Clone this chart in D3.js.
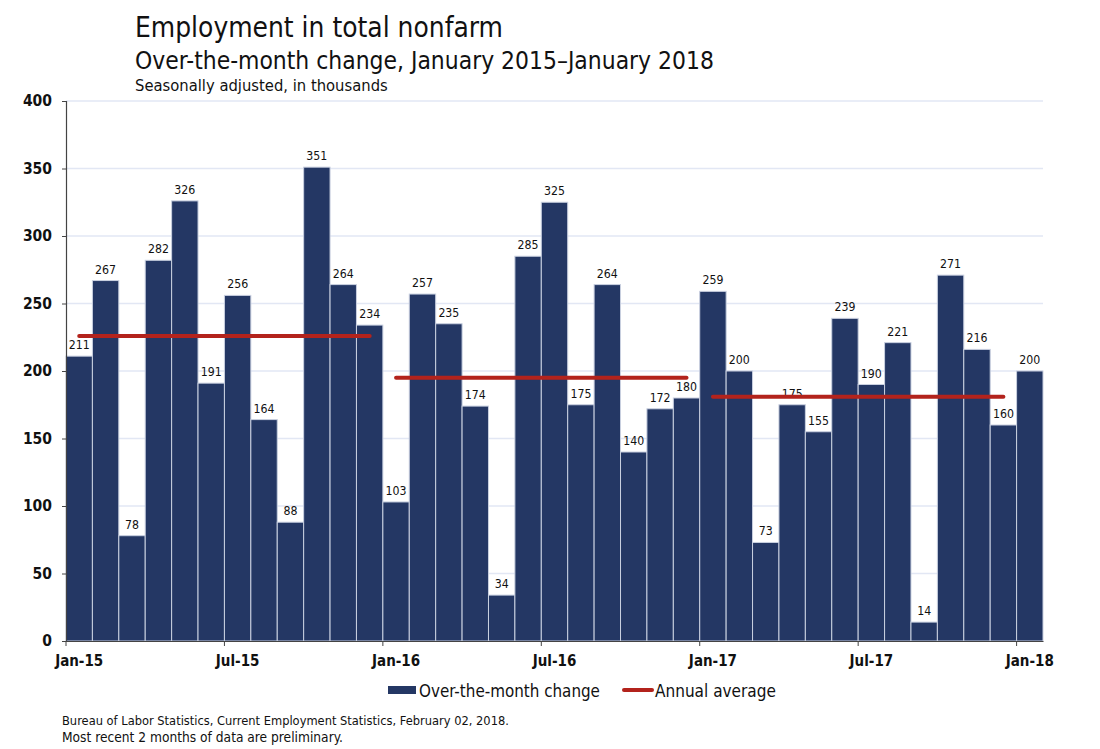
<!DOCTYPE html>
<html>
<head>
<meta charset="utf-8">
<script src="https://cdn.jsdelivr.net/npm/d3@7"></script>
<style>
  html, body { margin: 0; padding: 0; background: #fff; }
  svg { display: block; }
  text { font-family: "DejaVu Sans Condensed", "DejaVu Sans", Verdana, sans-serif; font-stretch: condensed; fill: #111; }
</style>
</head>
<body>
<svg id="chart" width="1100" height="749"></svg>
<script>
// ---- Data ----
const months = [
  "Jan-15","Feb-15","Mar-15","Apr-15","May-15","Jun-15","Jul-15","Aug-15","Sep-15","Oct-15","Nov-15","Dec-15",
  "Jan-16","Feb-16","Mar-16","Apr-16","May-16","Jun-16","Jul-16","Aug-16","Sep-16","Oct-16","Nov-16","Dec-16",
  "Jan-17","Feb-17","Mar-17","Apr-17","May-17","Jun-17","Jul-17","Aug-17","Sep-17","Oct-17","Nov-17","Dec-17",
  "Jan-18"
];
const changes = [
  211,267,78,282,326,191,256,164,88,351,264,234,
  103,257,235,174,34,285,325,175,264,140,172,180,
  259,200,73,175,155,239,190,221,14,271,216,160,
  200
];
const avgYears = ["2015","2016","2017"];
const avgStart = ["Jan-15","Jan-16","Jan-17"];
const avgEnd = ["Dec-15","Dec-16","Dec-17"];
const avgValues = [226,195,181];
const yTicks = [0,50,100,150,200,250,300,350,400];
const xTickLabels = ["Jan-15","Jul-15","Jan-16","Jul-16","Jan-17","Jul-17","Jan-18"];

const titleText = "Employment in total nonfarm";
const subtitleText = "Over-the-month change, January 2015\u2013January 2018";
const subtitle2Text = "Seasonally adjusted, in thousands";
const legendBarText = "Over-the-month change";
const legendLineText = "Annual average";
const footnotes = [
  "Bureau of Labor Statistics, Current Employment Statistics, February 02, 2018.",
  "Most recent 2 months of data are preliminary."
];

// ---- Layout ----
const svg = d3.select("#chart");
const plot = { left: 66, right: 1043, top: 101, bottom: 641 };
const barColor = "#243764";
const lineColor = "#b3231c";

const x = d3.scaleBand().domain(months).range([plot.left, plot.right]).paddingInner(0).paddingOuter(0);
const y = d3.scaleLinear().domain([0, 400]).range([plot.bottom, plot.top]);

function fit(sel, w) {
  const n = sel.node();
  const fs = parseFloat(sel.attr("font-size"));
  const cur = n.getComputedTextLength();
  sel.attr("font-size", (fs * w / cur).toFixed(2));
}

// Titles
fit(svg.append("text").attr("x", 135).attr("y", 37).attr("font-size", 26).text(titleText), 368);
fit(svg.append("text").attr("x", 135).attr("y", 69).attr("font-size", 21).text(subtitleText), 579);
fit(svg.append("text").attr("x", 135).attr("y", 91).attr("font-size", 15).text(subtitle2Text), 253);

// Gridlines
svg.append("g").selectAll("line").data(yTicks.filter(d => d > 0)).join("line")
  .attr("x1", plot.left).attr("x2", plot.right)
  .attr("y1", d => y(d)).attr("y2", d => y(d))
  .attr("stroke", "#e2e7f4").attr("stroke-width", 1.5);

// Bars
svg.append("g").selectAll("rect").data(changes).join("rect")
  .attr("x", (d, i) => x(months[i]))
  .attr("y", d => y(d))
  .attr("width", x.bandwidth())
  .attr("height", d => y(0) - y(d))
  .attr("fill", barColor)
  .attr("stroke", "#c9d0e0").attr("stroke-width", 1);

// Bar labels
const lblSize = (() => {
  const t = svg.append("text").attr("font-size", 12).text("351");
  const w = t.node().getComputedTextLength(); t.remove();
  return 12 * 21 / w;
})();
svg.append("g").selectAll("text").data(changes).join("text")
  .attr("x", (d, i) => x(months[i]) + x.bandwidth() / 2)
  .attr("y", d => y(d) - 7)
  .attr("text-anchor", "middle")
  .attr("font-size", lblSize.toFixed(2))
  .attr("fill", "#222")
  .text(d => d);

// Annual averages
svg.append("g").selectAll("line").data(avgValues).join("line")
  .attr("x1", (d, i) => x(avgStart[i]) + x.bandwidth() / 2)
  .attr("x2", (d, i) => x(avgEnd[i]) + x.bandwidth() / 2)
  .attr("y1", d => y(d)).attr("y2", d => y(d))
  .attr("stroke", lineColor).attr("stroke-width", 4).attr("stroke-linecap", "round");

// Y axis
const yAxis = svg.append("g").attr("transform", `translate(${plot.left},0)`)
  .call(d3.axisLeft(y).tickValues(yTicks).tickSize(4).tickPadding(10));
yAxis.select(".domain").attr("stroke", "#444").attr("stroke-width", 1.2);
yAxis.selectAll(".tick line").attr("stroke", "#444");
yAxis.selectAll(".tick text").attr("font-family", null).attr("font-size", null)
  .style("font-size", "15.5px").style("font-weight", "bold").attr("fill", "#111");

// X axis: ticks at the left edge of each labelled month, labels centred on the bar
const xAxis = svg.append("g").attr("transform", `translate(0,${plot.bottom})`)
  .call(d3.axisBottom(x).tickValues(xTickLabels).tickSize(5).tickPadding(9).tickSizeOuter(0));
xAxis.select(".domain").attr("stroke", "#444").attr("stroke-width", 1.2);
xAxis.selectAll(".tick line").attr("stroke", "#444").attr("x1", -x.bandwidth() / 2).attr("x2", -x.bandwidth() / 2);
xAxis.selectAll(".tick text").attr("font-family", null).attr("font-size", null)
  .style("font-size", "15px").style("font-weight", "bold").attr("fill", "#111");

// Legend
const lg = svg.append("g");
lg.append("rect").attr("x", 388).attr("y", 686).attr("width", 28).attr("height", 8).attr("fill", barColor);
fit(lg.append("text").attr("x", 419).attr("y", 697).attr("font-size", 16).text(legendBarText), 181);
lg.append("line").attr("x1", 624).attr("x2", 652).attr("y1", 690).attr("y2", 690)
  .attr("stroke", lineColor).attr("stroke-width", 4).attr("stroke-linecap", "round");
fit(lg.append("text").attr("x", 655).attr("y", 697).attr("font-size", 16).text(legendLineText), 121);

// Footnotes
const fn = svg.append("g");
footnotes.forEach((t, i) => {
  const s = fn.append("text").attr("x", 62).attr("y", 725 + i * 17).attr("font-size", 12).attr("fill", "#222").text(t);
  if (i === 0) fit(s, 447);
  else fit(s, 281);
});
</script>
</body>
</html>
